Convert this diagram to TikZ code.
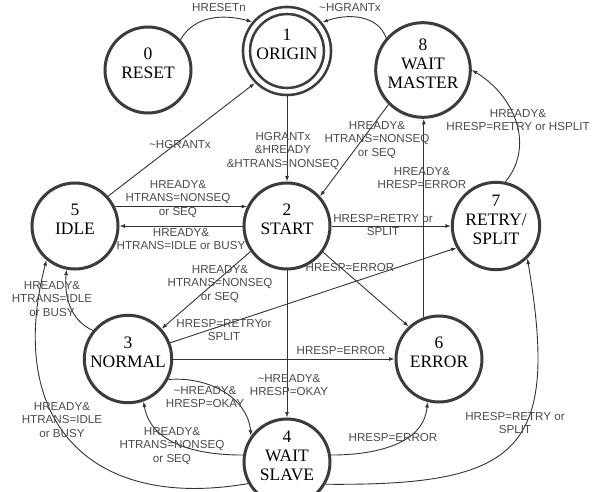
\documentclass[tikz,border=0pt]{standalone}
\usepackage{fontspec}
\setmainfont{Liberation Serif}
\newfontfamily\lblfamily{Liberation Sans}
\usetikzlibrary{arrows.meta}
\definecolor{ringgray}{HTML}{3C3C3C}
\definecolor{linegray}{HTML}{333333}
\definecolor{textgray}{HTML}{4A4A4A}
\newcommand{\tld}{\textasciitilde}
\tikzset{
  state/.style={circle, draw=ringgray, line width=3pt, minimum size=86pt, inner sep=0pt,
    align=center, text depth=13pt, font={\fontsize{17.5}{19}\selectfont}},
  origin/.style={state, double, double distance=4.4pt, line width=2.6pt, minimum size=81pt, outer sep=5pt},
  arr/.style={draw=linegray, line width=0.9pt, -{Latex[length=5.5pt,width=4pt]}},
  lbl/.style={font={\lblfamily\fontsize{11.6}{13.2}\selectfont}, text=textgray, align=center, inner sep=0pt}
}
\begin{document}
\begin{tikzpicture}[x=1pt,y=1pt]
\useasboundingbox (0,0) rectangle (598,491);
% states
\node[state]  (n0) at (148,421) {0\\RESET};
\node[origin] (n1) at (287,440) {1\\ORIGIN};
\node[state]  (n8) at (423,421) {8\\WAIT\\MASTER};
\node[state]  (n5) at (75,265)  {5\\IDLE};
\node[state]  (n2) at (287,265) {2\\START};
\node[state]  (n7) at (496,265) {7\\RETRY/\\SPLIT};
\node[state]  (n3) at (128,132) {3\\NORMAL};
\node[state]  (n6) at (439,132) {6\\ERROR};
\node[state]  (n4) at (287,29)  {4\\WAIT\\SLAVE};
% transitions
\draw[arr] (n0.43) to[out=60,in=165] (n1.140);
\draw[arr] (n8.139) to[out=110,in=20] (n1.39);
\draw[arr] (n5.42) -- (n1.225);
\draw[arr] (n1.south) -- (n2.north);
\draw[arr] (n8.225) -- (n2.42);
\draw[arr] (n6.110) -- (n6.110 |- n8.south);
\draw[arr] (n7.78) .. controls (535,345) and (515,395) .. (n8.east);
\draw[arr] (n5.26) -- (n2.154);
\draw[arr] (n2.west) -- (n5.east);
\draw[arr] (n2.east) -- (n7.west);
\draw[arr] (n2.215) -- (n3.42);
\draw[arr] (n3.21) -- (n7.209);
\draw[arr] (n2.-36) -- (n6.133);
\draw[arr] (n3.east) -- (n6.west);
\draw[arr] (n2.south) -- (n4.north);
\draw[arr] (n3.-27) to[out=5,in=95] (n4.144);
\draw[arr] (n4.171) to[out=180,in=-80] (n3.-70);
\draw[arr] (n3.141) to[out=155,in=-95] (n5.259);
\draw[arr] (n4.209) .. controls (90,-20) and (5,70) .. (n5.230);
\draw[arr] (n4.9) to[out=0,in=-95] (n6.255);
\draw[arr] (n4.-30) .. controls (520,5) and (560,40) .. (n7.-46);
% conditions
\node[lbl] (l01) at (219,483) {HRESETn};
\node[lbl] (l81) at (350,483) {\tld HGRANTx};
\node[lbl] (l51) at (180,346) {\tld HGRANTx};
\node[lbl] (l12) at (283,340) {HGRANTx\\\&HREADY\\\&HTRANS=NONSEQ};
\node[lbl] (l82) at (377,351) {HREADY\&\\HTRANS=NONSEQ\\or SEQ};
\node[lbl] (l68) at (422,313) {HREADY\&\\HRESP=ERROR};
\node[lbl] (l78) at (518,371) {HREADY\&\\HRESP=RETRY or HSPLIT};
\node[lbl] (l52) at (178,292) {HREADY\&\\HTRANS=NONSEQ\\or SEQ};
\node[lbl] (l25) at (181,252) {HREADY\&\\HTRANS=IDLE or BUSY};
\node[lbl] (l27) at (383,266) {HRESP=RETRY or\\SPLIT};
\node[lbl] (l23) at (220,207) {HREADY\&\\HTRANS=NONSEQ\\or SEQ};
\node[lbl] (l37) at (224,161) {HRESP=RETRYor\\SPLIT};
\node[lbl] (l26) at (350,223) {HRESP=ERROR};
\node[lbl] (l36) at (341,140) {HRESP=ERROR};
\node[lbl] (l24) at (289,106) {\tld HREADY\&\\HRESP=OKAY};
\node[lbl] (l34) at (205,94)  {\tld HREADY\&\\HRESP=OKAY};
\node[lbl] (l43) at (172,45)  {HREADY\&\\HTRANS=NONSEQ\\or SEQ};
\node[lbl] (l35) at (52,192)  {HREADY\&\\HTRANS=IDLE\\or BUSY};
\node[lbl] (l45) at (62,71)   {HREADY\&\\HTRANS=IDLE\\or BUSY};
\node[lbl] (l46) at (393,53)  {HRESP=ERROR};
\node[lbl] (l47) at (515,68)  {HRESP=RETRY or\\SPLIT};
\end{tikzpicture}
\end{document}
